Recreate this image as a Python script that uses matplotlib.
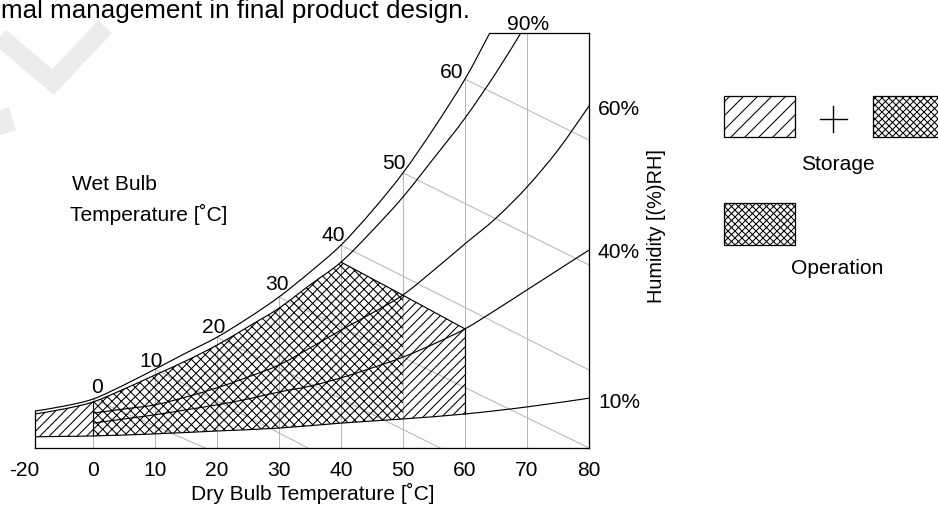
import numpy as np
import matplotlib
matplotlib.use('Agg')
import matplotlib.pyplot as plt
from matplotlib.patches import Polygon, Rectangle, PathPatch
from matplotlib.path import Path
from matplotlib.lines import Line2D
from matplotlib.transforms import ScaledTranslation

DPI = 84
W, H = 938, 507

plt.rcParams['font.family'] = ['Liberation Sans', 'DejaVu Sans']
plt.rcParams['hatch.linewidth'] = 0.9
plt.rcParams['hatch.color'] = 'black'

# humidity on a 0-100 chart scale, read against dry bulb temperature (deg C)
SAT_T = [-20, -10, 0, 5, 10, 15, 20, 25, 30, 35, 40, 45, 50, 55, 60, 64]
SAT_V = [8.9, 10.1, 11.8, 15.2, 19.0, 22.9, 26.7, 31.3, 36.4, 42.4, 48.9, 57.1,
         66.3, 77.1, 88.9, 100]

RH90_T = [-20, -10, 0, 5, 10, 15, 20, 25, 30, 35, 40, 45, 50, 55, 60, 65, 69]
RH90_V = [8.2, 9.4, 11.1, 14.2, 17.6, 21.0, 24.8, 29.2, 33.7, 39.3, 44.8, 52.3,
          60.5, 69.9, 79.5, 90.4, 100]

RH60_T = [0, 5, 10, 15, 20, 25, 30, 35, 40, 45, 50, 55, 60, 65, 70, 75, 80]
RH60_V = [8.4, 9.4, 10.4, 12.3, 14.5, 17.1, 20.0, 24.1, 28.4, 32.5, 36.9, 42.9,
          49.2, 55.4, 62.9, 71.8, 82.4]

RH40_T = [0, 5, 10, 15, 20, 25, 30, 35, 40, 45, 50, 55, 60, 65, 70, 75, 80]
RH40_V = [6.0, 7.0, 8.0, 9.2, 10.4, 11.8, 13.5, 14.9, 16.9, 19.3, 21.9, 25.1,
          28.7, 33.3, 38.1, 42.9, 47.7]

RH10_T = [-20, -10, 0, 10, 20, 30, 40, 50, 60, 70, 80]
RH10_V = [2.7, 2.8, 2.9, 3.4, 4.1, 4.8, 6.0, 7.0, 8.2, 9.9, 12.0]

# wet bulb lines: start on saturation curve, end points
WB_T = [0, 10, 20, 30, 40, 50, 60]
WB_END_T = [18.1, 34.7, 56.0, 80, 80, 80, 80]
WB_END_V = [0, 0, 0, 0, 18.8, 44.1, 74.2]

GRID_T = [0, 10, 20, 30, 40, 50, 60, 70]
XTICKS = [-20, 0, 10, 20, 30, 40, 50, 60, 70, 80]

# storage / operation envelope
STORE_T = (-20, 60)
OPER_T = (0, 50)
EDGE_T = [40, 50, 60]
EDGE_V = [44.8, 36.8, 28.7]

RH_LABELS = ['60%', '40%', '10%']


def fwd(t):
    t = np.asarray(t, dtype=float)
    return np.where(t < 0, t * 0.468, t)


def inv(x):
    x = np.asarray(x, dtype=float)
    return np.where(x < 0, x / 0.468, x)


def px(x, y):
    return x / W, 1 - y / H


def curve_part(T, V, lo, hi):
    T = np.asarray(T, float)
    V = np.asarray(V, float)
    m = (T >= lo) & (T <= hi)
    return list(zip(T[m], V[m]))


def smooth_path(T, V):
    # Catmull-Rom through the read points, drawn as cubic Bezier segments
    pts = np.column_stack([fwd(T), np.asarray(V, float)])
    n = len(pts)
    verts, codes = [pts[0]], [Path.MOVETO]
    for i in range(n - 1):
        p0, p1 = pts[max(i - 1, 0)], pts[i]
        p2, p3 = pts[i + 1], pts[min(i + 2, n - 1)]
        verts += [p1 + (p2 - p0) / 6, p2 - (p3 - p1) / 6, p2]
        codes += [Path.CURVE4] * 3
    verts = np.array(verts)
    verts[:, 0] = inv(verts[:, 0])
    return Path(verts, codes)


fig = plt.figure(figsize=(W / DPI, H / DPI), dpi=DPI)
ax = fig.add_axes([35 / W, 59 / H, 554 / W, 415 / H])
ax.patch.set_visible(False)
ax.set_xscale('function', functions=(fwd, inv))
ax.set_xlim(-20, 80)
ax.set_ylim(0, 100)

gray = '#b8b8b8'
sat_at_grid = np.interp(GRID_T, SAT_T, SAT_V)
ax.vlines(GRID_T, 0, sat_at_grid, color=gray, lw=0.9, zorder=1)
wb_start = np.interp(WB_T, SAT_T, SAT_V)
for t0, v0, t1, v1 in zip(WB_T, wb_start, WB_END_T, WB_END_V):
    ax.plot([t0, t1], [v0, v1], color=gray, lw=0.9, zorder=1)

# hatched regions
rh90_op = curve_part(RH90_T, RH90_V, OPER_T[0], EDGE_T[0])
rh10_op = curve_part(RH10_T, RH10_V, OPER_T[0], OPER_T[1])[::-1]
oper = rh90_op + [(EDGE_T[1], EDGE_V[1])] + rh10_op
ax.add_patch(Polygon(oper, closed=True, facecolor='none', edgecolor='black',
                     lw=0, hatch='xxx', zorder=2))

left = (curve_part(RH90_T, RH90_V, STORE_T[0], OPER_T[0])
        + curve_part(RH10_T, RH10_V, STORE_T[0], OPER_T[0])[::-1])
right = ([(EDGE_T[1], EDGE_V[1]), (EDGE_T[2], EDGE_V[2])]
         + curve_part(RH10_T, RH10_V, OPER_T[1], STORE_T[1])[::-1])
for pts in (left, right):
    ax.add_patch(Polygon(pts, closed=True, facecolor='none', edgecolor='black',
                         lw=0, hatch='///', zorder=2))

# envelope edges
lw = 1.0
ax.plot(EDGE_T, EDGE_V, color='black', lw=lw, zorder=3)
v10_0 = np.interp(OPER_T[0], RH10_T, RH10_V)
v90_0 = np.interp(OPER_T[0], RH90_T, RH90_V)
ax.plot([OPER_T[0], OPER_T[0]], [v10_0, v90_0], color='black', lw=lw, zorder=3)
v10_60 = np.interp(STORE_T[1], RH10_T, RH10_V)
ax.plot([STORE_T[1], STORE_T[1]], [v10_60, EDGE_V[2]], color='black', lw=lw, zorder=3)

# humidity curves
for T, V in ((SAT_T, SAT_V), (RH90_T, RH90_V), (RH60_T, RH60_V),
             (RH40_T, RH40_V), (RH10_T, RH10_V)):
    ax.add_patch(PathPatch(smooth_path(T, V), facecolor='none',
                           edgecolor='black', lw=lw, zorder=3))

# spines
for s in ax.spines.values():
    s.set_linewidth(1.1)
ax.spines['left'].set_bounds(0, SAT_V[0])
ax.spines['top'].set_bounds(SAT_T[-1], 80)

ax.set_xticks(XTICKS)
ax.set_xticklabels([str(t) for t in XTICKS])
ax.set_yticks([])
ax.tick_params(axis='x', length=0, pad=11, labelsize=18)
lbl = ax.get_xticklabels()[0]
lbl.set_transform(lbl.get_transform() + ScaledTranslation(-11 / DPI, 0, fig.dpi_scale_trans))

ax.set_xlabel('Dry Bulb Temperature [˚C]', fontsize=18)
ax.xaxis.set_label_coords(0.502, -0.085)
ax.yaxis.set_label_position('right')
ax.set_ylabel('Humidity [(%)RH]', fontsize=17)
ax.yaxis.set_label_coords(1.122, 0.535)
ax.yaxis.label.set_va('center')

# wet bulb temperature labels along saturation curve
wb_offsets = [(4, 12), (-4, 8), (-3, 10), (-2, 12), (-8, 10), (-9, 9), (-13, 7)]
for t, v, off in zip(WB_T, wb_start, wb_offsets):
    ax.annotate(str(t), (t, v), xytext=off, textcoords='offset pixels',
                ha='center', va='center', fontsize=18, zorder=4)

# relative humidity labels
ends = [RH60_V[-1], RH40_V[-1], RH10_V[-1]]
rh_dy = [-3, -2, -4]
for lab, v, dy in zip(RH_LABELS, ends, rh_dy):
    ax.annotate(lab, (80, v), xytext=(9, dy), textcoords='offset pixels',
                ha='left', va='center', fontsize=18)
ax.annotate('90%', (70, 100), xytext=(1, 8), textcoords='offset pixels',
            ha='center', va='center', fontsize=18)

ax.text((72 - 35) / 554, (448 - 184) / 415, 'Wet Bulb', transform=ax.transAxes,
        ha='left', va='center', fontsize=18)
ax.text((70 - 35) / 554, (448 - 214) / 415, 'Temperature [˚C]',
        transform=ax.transAxes, ha='left', va='center', fontsize=18)


# legend
def box(x0, y0, w, h, hatch):
    r = Rectangle(px(x0, y0 + h), w / W, h / H, transform=fig.transFigure,
                  facecolor='white', edgecolor='black', lw=1.1, hatch=hatch)
    fig.add_artist(r)


box(724, 96, 71, 41, '//')
box(873, 96, 71, 41, 'xxxx')
box(724, 203, 71, 42, 'xxxx')
for (xa, ya), (xb, yb) in (((820, 119), (847, 119)), ((833, 106), (833, 132))):
    fig.add_artist(Line2D([xa / W, xb / W], [1 - ya / H, 1 - yb / H],
                          transform=fig.transFigure, color='black', lw=1.2))
fig.text(*px(838, 164), 'Storage', ha='center', va='center', fontsize=18)
fig.text(*px(837, 269), 'Operation', ha='center', va='center', fontsize=18)

# clipped caption line at the top and faint watermark
fig.text(*px(1, 18), 'mal management in final product design.', ha='left',
         va='baseline', fontsize=22.3)
wm = dict(transform=fig.transFigure, color='#ececec', lw=16, zorder=-1,
          solid_capstyle='butt', solid_joinstyle='miter')
fig.add_artist(Line2D([0, 53 / W, 105 / W], [1 - 37 / H, 1 - 82 / H, 1 - 27 / H], **wm))
fig.add_artist(Line2D([0, 7 / W], [1 - 110 / H, 1 - 133 / H], **wm))

fig.savefig('out.png', dpi=DPI)
